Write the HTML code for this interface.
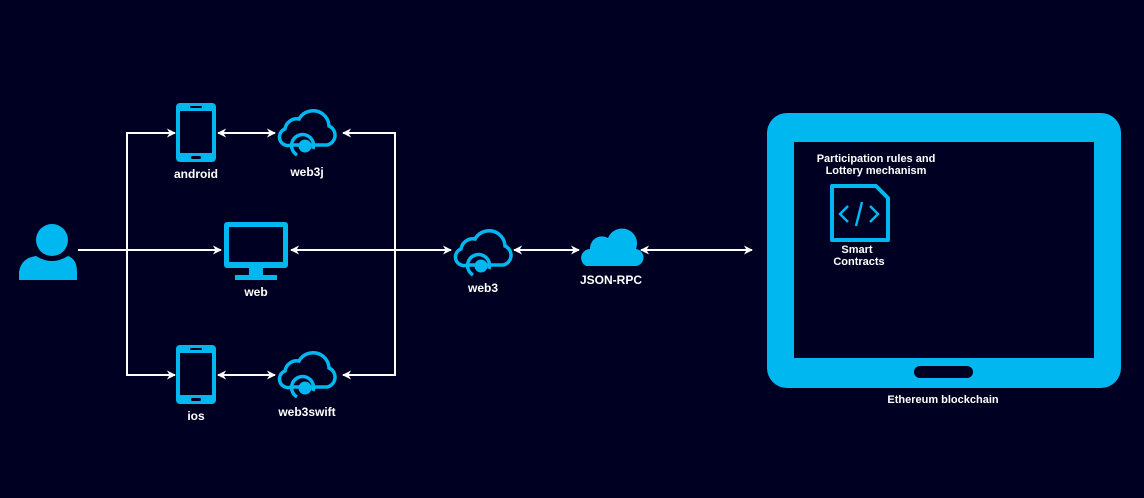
<!DOCTYPE html>
<html><head><meta charset="utf-8"><style>
html,body{margin:0;padding:0;background:#000022;}
svg{display:block;}
text{font-family:"Liberation Sans",sans-serif;font-weight:bold;fill:#fff;text-anchor:middle;}
</style></head><body>
<svg width="1144" height="498" viewBox="0 0 1144 498" xmlns="http://www.w3.org/2000/svg">
<defs>
<marker id="a" viewBox="0 0 10 10" refX="9" refY="5" markerWidth="9" markerHeight="9" markerUnits="userSpaceOnUse" orient="auto-start-reverse"><path d="M0,0 L10,5 L0,10 L3,5 Z" fill="#fff"/></marker>
<g id="cl">
<path d="M14,40 H50 A10,10 0 0 0 52,21 A16,16 0 0 0 22,14 A12,12 0 0 0 8,24 A8,8 0 0 0 14,40" fill="none" stroke="#00b7ef" stroke-width="3.5"/>
<path d="M20,50 A11,11 0 1 1 36,44" fill="none" stroke="#00b7ef" stroke-width="3.5"/>
<circle cx="28" cy="41" r="6.5" fill="#00b7ef"/>
</g>
<g id="ph">
<rect x="0" y="0" width="40" height="59" rx="4" fill="#00b7ef"/>
<rect x="4" y="8" width="32" height="42" fill="#000022"/>
<rect x="14" y="3" width="12" height="2" rx="1" fill="#000022"/>
<rect x="15" y="53" width="10" height="3" rx="1.5" fill="#000022"/>
</g>
</defs>
<g stroke="#fff" stroke-width="2" fill="none">
<line x1="78" y1="250" x2="221" y2="250" marker-end="url(#a)"/>
<polyline points="175,133 127,133 127,375 175,375" marker-start="url(#a)" marker-end="url(#a)"/>
<line x1="218" y1="133" x2="275" y2="133" marker-start="url(#a)" marker-end="url(#a)"/>
<line x1="218" y1="375" x2="275" y2="375" marker-start="url(#a)" marker-end="url(#a)"/>
<polyline points="343,133 395,133 395,375 343,375" marker-start="url(#a)" marker-end="url(#a)"/>
<line x1="291" y1="250" x2="451" y2="250" marker-start="url(#a)" marker-end="url(#a)"/>
<line x1="514" y1="250" x2="579" y2="250" marker-start="url(#a)" marker-end="url(#a)"/>
<line x1="641" y1="250" x2="752" y2="250" marker-start="url(#a)" marker-end="url(#a)"/>
</g>
<!-- person -->
<circle cx="52" cy="240" r="16" fill="#00b7ef"/>
<path d="M19,280 V272 Q21,258 36,256 Q52,266 68,256 Q77,259 77,272 V280 Z" fill="#00b7ef"/>
<use href="#ph" x="176" y="103"/>
<use href="#ph" x="176" y="345"/>
<use href="#cl" x="277" y="105"/>
<use href="#cl" x="277" y="347"/>
<use href="#cl" x="453" y="225"/>
<!-- monitor -->
<rect x="224" y="222" width="64" height="46" rx="3" fill="#00b7ef"/>
<rect x="229" y="227" width="54" height="35" fill="#000022"/>
<rect x="249" y="267" width="14" height="8" fill="#00b7ef"/>
<rect x="235" y="275" width="42" height="5" fill="#00b7ef"/>
<!-- JSON-RPC cloud -->
<path d="M586,266 H634 A8,8 0 0 0 636,249 A15,15 0 0 0 608,238 A12,12 0 0 0 590,249 A9,9 0 0 0 586,266 Z" fill="#00b7ef"/>
<!-- tablet -->
<rect x="767" y="113" width="354" height="275" rx="20" fill="#00b7ef"/>
<rect x="794" y="142" width="300" height="216" fill="#000022"/>
<rect x="914" y="366" width="59" height="12" rx="6" fill="#000022"/>
<!-- contract doc -->
<path d="M832,186 H876 L888,198 V240 H832 Z" fill="none" stroke="#00b7ef" stroke-width="4" stroke-linejoin="round"/>
<path d="M848,206 L840,214 L848,222 M870,206 L878,214 L870,222 M862,202 L856,226" fill="none" stroke="#00b7ef" stroke-width="2.5"/>
<g font-size="12">
<text x="196" y="178">android</text>
<text x="307" y="176">web3j</text>
<text x="256" y="296">web</text>
<text x="196" y="420">ios</text>
<text x="307" y="416">web3swift</text>
<text x="483" y="292">web3</text>
<text x="611" y="284">JSON-RPC</text>
<text x="943" y="403" font-size="11">Ethereum blockchain</text>
</g>
<g font-size="11">
<text x="876" y="162">Participation rules and</text>
<text x="876" y="174">Lottery mechanism</text>
<text x="857" y="253">Smart</text>
<text x="859" y="265">Contracts</text>
</g>
</svg>
</body></html>
